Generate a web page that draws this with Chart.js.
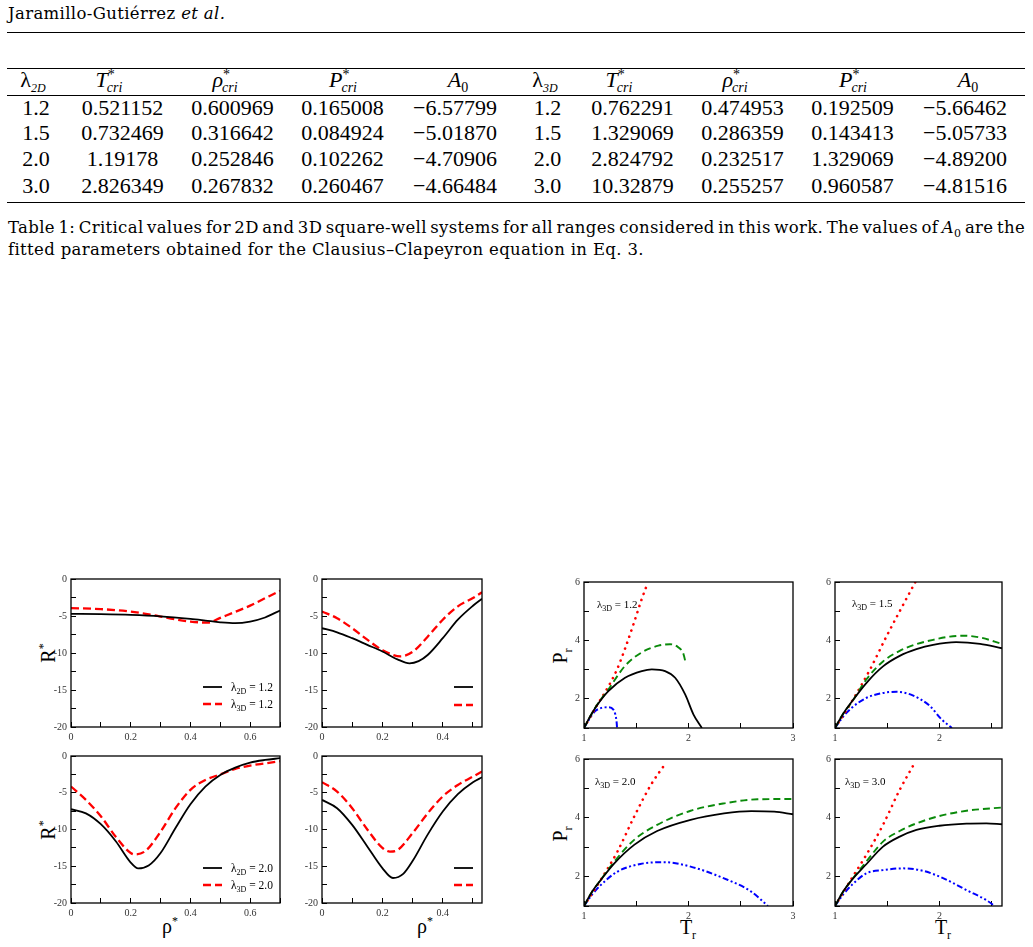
<!DOCTYPE html>
<html>
<head>
<meta charset="utf-8">
<title>Square-well critical values</title>
<script src="https://cdn.jsdelivr.net/npm/chart.js@4.4.1/dist/chart.umd.min.js"></script>
<style>
  body { margin: 0; background: #fff; }
  #page { position: relative; width: 1033px; height: 947px; overflow: hidden; font-family: "Liberation Serif", serif; color: #000; }
  .txt { position: absolute; white-space: nowrap; }
  .rule { position: absolute; left: 7px; width: 1018px; height: 0; border-top: 1.2px solid #000; }
  .cell { position: absolute; width: 140px; text-align: center; font-size: 22px; line-height: 26px; white-space: nowrap; }
  .cell sub, .cell sup { font-size: 14px; line-height: 0; }
  .cell .cri { font-style: italic; margin-left: -8px; }
  .cell .dd { font-style: italic; font-size: 12px; }
  .body { font-family: "DejaVu Serif", serif; font-size: 16.5px; letter-spacing: 0.35px; }
  .cap { position: absolute; left: 8px; width: 1017px; line-height: 21.7px; white-space: nowrap; }
  .at { position: absolute; font-size: 20px; line-height: 1; white-space: nowrap; }
  .at sup, .at sub { font-size: 12px; line-height: 0; }
  canvas { position: absolute; }
</style>
</head>
<body>
<div id="page">
  <div class="txt body" style="left:8px;top:4px;line-height:20px;">Jaramillo-Gutiérrez <i>et al.</i></div>
  <div class="rule" style="top:32px;"></div>

  <div class="rule" style="top:68px;"></div>
  <div class="rule" style="top:95px;"></div>
  <div class="rule" style="top:202px;"></div>

  <div class="cap body" style="top:217px;text-align:justify;text-align-last:justify;word-spacing:-3px;">Table 1: Critical values for 2D and 3D square-well systems for all ranges considered in this work. The values of <i>A</i><sub style="font-size:11px">0</sub> are the</div>
  <div class="cap body" style="top:239px;">fitted parameters obtained for the Clausius–Clapeyron equation in Eq. 3.</div>

  <div class="at" style="left:48px;top:653px;transform:translate(-50%,-50%) rotate(-90deg);">R<sup>*</sup></div>
  <div class="at" style="left:48px;top:830px;transform:translate(-50%,-50%) rotate(-90deg);">R<sup>*</sup></div>
  <div class="at" style="left:170px;top:926px;transform:translate(-50%,-50%);">ρ<sup>*</sup></div>
  <div class="at" style="left:425px;top:926px;transform:translate(-50%,-50%);">ρ<sup>*</sup></div>
  <div class="at" style="left:560px;top:656px;transform:translate(-50%,-50%) rotate(-90deg);">P<sub>r</sub></div>
  <div class="at" style="left:560px;top:834px;transform:translate(-50%,-50%) rotate(-90deg);">P<sub>r</sub></div>
  <div class="at" style="left:688px;top:927px;transform:translate(-50%,-50%);">T<sub>r</sub></div>
  <div class="at" style="left:943px;top:927px;transform:translate(-50%,-50%);">T<sub>r</sub></div>
</div>

<script>
// ---- Table 1 ----
const lam = ["1.2", "1.5", "2.0", "3.0"];
const tCri2d = ["0.521152", "0.732469", "1.19178", "2.826349"];
const rhoCri2d = ["0.600969", "0.316642", "0.252846", "0.267832"];
const pCri2d = ["0.165008", "0.084924", "0.102262", "0.260467"];
const a0_2d = ["−6.57799", "−5.01870", "−4.70906", "−4.66484"];
const tCri3d = ["0.762291", "1.329069", "2.824792", "10.32879"];
const rhoCri3d = ["0.474953", "0.286359", "0.232517", "0.255257"];
const pCri3d = ["0.192509", "0.143413", "1.329069", "0.960587"];
const a0_3d = ["−5.66462", "−5.05733", "−4.89200", "−4.81516"];

// ---- R* vs rho* (left figure) ----
const rhoTicks = [0, 0.1, 0.2, 0.3, 0.4, 0.5, 0.6, 0.7];
const rhoTickText = ["0", "", "0.2", "", "0.4", "", "0.6", ""];
const rTicks = [0, -2.5, -5, -7.5, -10, -12.5, -15, -17.5, -20];
const rTickText = ["0", "", "-5", "", "-10", "", "-15", "", "-20"];

const rhoA2d = [0, 0.1, 0.2, 0.3, 0.4, 0.45, 0.5, 0.55, 0.6, 0.65, 0.7];
const rA2d = [-4.7, -4.75, -4.85, -5.05, -5.4, -5.62, -5.85, -5.97, -5.75, -5.2, -4.25];
const rhoA3d = [0, 0.1, 0.2, 0.25, 0.3, 0.35, 0.4, 0.46, 0.5, 0.55, 0.6, 0.65, 0.7];
const rA3d = [-3.94, -4.07, -4.4, -4.7, -5.07, -5.45, -5.75, -5.9, -5.25, -4.45, -3.6, -2.6, -1.6];

const rhoB2d = [0, 0.05, 0.1, 0.15, 0.2, 0.25, 0.29, 0.32, 0.35, 0.4, 0.45, 0.5, 0.53];
const rB2d = [-6.65, -7.2, -8.0, -8.9, -9.8, -10.86, -11.4, -11.1, -10.27, -8.0, -5.5, -3.62, -2.67];
const rhoB3d = [0, 0.05, 0.1, 0.15, 0.2, 0.26, 0.3, 0.35, 0.4, 0.45, 0.5, 0.53];
const rB3d = [-4.39, -5.3, -6.65, -8.2, -9.6, -10.45, -9.85, -7.8, -5.5, -3.7, -2.58, -1.8];

const rhoC2d = [0, 0.05, 0.1, 0.15, 0.2, 0.225, 0.26, 0.3, 0.35, 0.4, 0.45, 0.5, 0.55, 0.6, 0.65, 0.7];
const rC2d = [-7.24, -7.8, -9.28, -11.6, -14.5, -15.3, -14.9, -13.2, -9.8, -6.56, -4.16, -2.58, -1.58, -0.9, -0.54, -0.3];
const rhoC3d = [0, 0.05, 0.1, 0.15, 0.2, 0.215, 0.25, 0.3, 0.35, 0.4, 0.45, 0.5, 0.55, 0.6, 0.65, 0.7];
const rC3d = [-4.16, -5.97, -8.2, -11.0, -13.2, -13.4, -12.9, -10.3, -7.1, -4.6, -3.26, -2.5, -1.76, -1.3, -1.0, -0.7];

const rhoD2d = [0, 0.05, 0.1, 0.15, 0.2, 0.235, 0.27, 0.3, 0.35, 0.4, 0.45, 0.5, 0.53];
const rD2d = [-5.97, -7.1, -9.37, -12.3, -15.25, -16.6, -16.0, -14.3, -10.7, -7.56, -5.2, -3.57, -2.9];
const rhoD3d = [0, 0.05, 0.1, 0.15, 0.2, 0.225, 0.25, 0.3, 0.35, 0.4, 0.45, 0.5, 0.53];
const rD3d = [-3.57, -4.84, -7.1, -10.0, -12.5, -13.0, -12.8, -10.5, -7.8, -5.5, -3.94, -2.8, -2.1];

// ---- P_r vs T_r (right figure) ----
const trTicks = [1, 1.5, 2, 2.5, 3];
const trTickText = ["1", "", "2", "", "3"];
const prTicks = [1, 2, 3, 4, 5, 6];
const prTickText = ["", "2", "", "4", "", "6"];

const tE_solid = [1, 1.06, 1.12, 1.233, 1.393, 1.553, 1.649, 1.776, 1.872, 1.968, 2.048, 2.128];
const pE_solid = [1, 1.4, 1.75, 2.26, 2.72, 2.95, 3.01, 2.95, 2.72, 2.15, 1.46, 1.0];
const tE_dash = [1, 1.06, 1.12, 1.233, 1.393, 1.553, 1.712, 1.824, 1.904, 1.952, 1.974];
const pE_dash = [1, 1.4, 1.77, 2.32, 3.13, 3.59, 3.82, 3.87, 3.76, 3.53, 3.21];
const tE_dot = [1, 1.12, 1.233, 1.313, 1.393, 1.473, 1.553, 1.61];
const pE_dot = [1, 1.75, 2.42, 2.98, 3.72, 4.55, 5.42, 5.97];
const tE_dd = [1, 1.05, 1.105, 1.169, 1.233, 1.281, 1.3, 1.313, 1.316];
const pE_dd = [1, 1.3, 1.57, 1.69, 1.71, 1.63, 1.46, 1.17, 1.02];

const tF_solid = [1, 1.08, 1.16, 1.3, 1.46, 1.62, 1.78, 1.94, 2.16, 2.39, 2.6];
const pF_solid = [1, 1.5, 1.9, 2.54, 3.11, 3.47, 3.7, 3.85, 3.94, 3.88, 3.73];
const tF_dash = [1, 1.08, 1.16, 1.3, 1.46, 1.62, 1.78, 1.94, 2.1, 2.24, 2.39, 2.6];
const pF_dash = [1, 1.5, 1.88, 2.66, 3.28, 3.64, 3.87, 4.02, 4.13, 4.16, 4.1, 3.88];
const tF_dot = [1, 1.16, 1.335, 1.495, 1.62, 1.77];
const pF_dot = [1, 1.9, 3.0, 4.15, 5.0, 6.0];
const tF_dd = [1, 1.08, 1.16, 1.3, 1.46, 1.59, 1.75, 1.91, 2.02, 2.12];
const pF_dd = [1, 1.4, 1.69, 2.03, 2.2, 2.24, 2.11, 1.75, 1.3, 1.0];

const tG_solid = [1, 1.08, 1.16, 1.29, 1.48, 1.7, 2.02, 2.34, 2.6, 2.82, 3.0];
const pG_solid = [1, 1.5, 1.88, 2.45, 3.08, 3.55, 3.93, 4.15, 4.23, 4.21, 4.12];
const tG_dash = [1, 1.08, 1.16, 1.29, 1.48, 1.7, 2.02, 2.34, 2.66, 3.0];
const pG_dash = [1, 1.5, 1.89, 2.51, 3.25, 3.76, 4.24, 4.49, 4.63, 4.64];
const tG_dot = [1, 1.16, 1.32, 1.48, 1.64, 1.78];
const pG_dot = [1, 1.89, 2.85, 4.04, 5.12, 5.85];
const tG_dd = [1, 1.08, 1.16, 1.32, 1.54, 1.77, 2.02, 2.34, 2.6, 2.76];
const pG_dd = [1, 1.4, 1.71, 2.17, 2.43, 2.49, 2.34, 1.94, 1.49, 1.0];

const tH_solid = [1, 1.08, 1.16, 1.3, 1.46, 1.62, 1.78, 2.0, 2.26, 2.45, 2.6];
const pH_solid = [1, 1.5, 1.88, 2.42, 3.02, 3.36, 3.59, 3.73, 3.8, 3.81, 3.78];
const tH_dash = [1, 1.08, 1.16, 1.3, 1.46, 1.62, 1.78, 2.0, 2.26, 2.6];
const pH_dash = [1, 1.5, 1.89, 2.51, 3.19, 3.55, 3.81, 4.06, 4.24, 4.35];
const tH_dot = [1, 1.16, 1.3, 1.46, 1.62, 1.77];
const pH_dot = [1, 1.94, 2.74, 3.76, 4.95, 5.91];
const tH_dd = [1, 1.08, 1.16, 1.3, 1.46, 1.65, 1.85, 2.04, 2.26, 2.45, 2.53];
const pH_dd = [1, 1.4, 1.71, 2.11, 2.22, 2.28, 2.19, 1.94, 1.54, 1.2, 1.0];

const page = document.getElementById("page");

// table columns
const headCx = [33, 109, 225, 343, 458, 545, 619, 735, 853, 968];
const colCx = [36, 122.5, 232.5, 342.5, 455, 547.5, 632.5, 742.5, 852.5, 965];
const heads = [
  'λ<sub class="dd">2D</sub>',
  '<i>T</i><sup>*</sup><sub class="cri">cri</sub>',
  '<i>ρ</i><sup>*</sup><sub class="cri">cri</sub>',
  '<i>P</i><sup>*</sup><sub class="cri">cri</sub>',
  '<i>A</i><sub>0</sub>',
  'λ<sub class="dd">3D</sub>',
  '<i>T</i><sup>*</sup><sub class="cri">cri</sub>',
  '<i>ρ</i><sup>*</sup><sub class="cri">cri</sub>',
  '<i>P</i><sup>*</sup><sub class="cri">cri</sub>',
  '<i>A</i><sub>0</sub>',
];
const cols = [lam, tCri2d, rhoCri2d, pCri2d, a0_2d, lam, tCri3d, rhoCri3d, pCri3d, a0_3d];
const rowTops = [94.6, 119.8, 146.2, 172.8];

heads.forEach((h, i) => {
  const d = document.createElement("div");
  d.className = "cell";
  d.style.left = headCx[i] - 70 + "px";
  d.style.top = "67px";
  d.innerHTML = h;
  page.appendChild(d);
});
cols.forEach((col, i) => {
  col.forEach((v, r) => {
    const d = document.createElement("div");
    d.className = "cell";
    d.style.left = colCx[i] - 70 + "px";
    d.style.top = rowTops[r] + "px";
    d.textContent = v;
    page.appendChild(d);
  });
});

// ---- charts ----
const FONT = '"Liberation Serif"';
const PAD_L = 34, PAD_T = 8, PAD_R = 5, PAD_B = 18;

const pts = (xs, ys) => xs.map((x, i) => ({ x: x, y: ys[i] }));

function subText(ctx, x, y, main, sub, rest, size) {
  ctx.fillStyle = "#000";
  ctx.textBaseline = "alphabetic";
  ctx.textAlign = "left";
  ctx.font = size + "px " + FONT;
  ctx.fillText(main, x, y);
  x += ctx.measureText(main).width;
  ctx.font = Math.round(size * 0.7) + "px " + FONT;
  ctx.fillText(sub, x, y + size * 0.28);
  x += ctx.measureText(sub).width;
  ctx.font = size + "px " + FONT;
  ctx.fillText(rest, x, y);
}

const deco = {
  id: "deco",
  afterDraw(chart, args, o) {
    const { ctx, chartArea: a } = chart;
    ctx.save();
    // legend keys (line samples, optional text)
    (o.keys || []).forEach((k, i) => {
      const ds = chart.data.datasets[i];
      const y = a.top + k.dy;
      ctx.beginPath();
      ctx.setLineDash(ds.borderDash || []);
      ctx.strokeStyle = ds.borderColor;
      ctx.lineWidth = ds.borderWidth;
      ctx.moveTo(a.left + o.kx, y);
      ctx.lineTo(a.left + o.kx + 19, y);
      ctx.stroke();
      ctx.setLineDash([]);
      if (k.text) subText(ctx, a.left + o.kx + 28, y + 4, "λ", k.sub, k.text, 11.5);
    });
    if (o.note) subText(ctx, a.left + o.note.x, a.top + o.note.y, "λ", "3D", o.note.text, 11);
    // box round the plot
    ctx.strokeStyle = "#000";
    ctx.lineWidth = 1.3;
    ctx.strokeRect(a.left, a.top, a.right - a.left, a.bottom - a.top);
    ctx.restore();
  },
};

function axis(min, max, vals, text, isX) {
  return {
    type: "linear",
    min: min,
    max: max,
    afterBuildTicks: (s) => {
      s.ticks = vals.map((v) => ({ value: v }));
    },
    afterFit: (s) => {
      if (isX) s.height = PAD_B;
      else s.width = PAD_L;
      s.paddingLeft = 0;
      s.paddingRight = 0;
      s.paddingTop = 0;
      s.paddingBottom = 0;
    },
    ticks: {
      autoSkip: false,
      maxRotation: 0,
      padding: 9,
      color: "#333",
      font: { family: "Liberation Serif", size: 10 },
      callback: (v, i) => text[i],
    },
    grid: { drawOnChartArea: false, drawTicks: true, tickLength: -5, color: "#000", lineWidth: 1 },
    border: { display: false },
  };
}

function panel(rect, xs, ys, datasets, decoOpts) {
  const cv = document.createElement("canvas");
  const w = rect.r - rect.l + PAD_L + PAD_R;
  const h = rect.b - rect.t + PAD_T + PAD_B;
  cv.width = w;
  cv.height = h;
  cv.style.left = rect.l - PAD_L + "px";
  cv.style.top = rect.t - PAD_T + "px";
  page.appendChild(cv);
  new Chart(cv, {
    type: "line",
    data: { datasets: datasets },
    options: {
      responsive: false,
      animation: false,
      layout: { padding: { top: PAD_T, right: PAD_R, left: 0, bottom: 0 } },
      elements: { point: { radius: 0 } },
      plugins: { legend: { display: false }, tooltip: { enabled: false }, deco: decoOpts },
      scales: { x: xs, y: ys },
    },
    plugins: [deco],
  });
}

const solid = (data) => ({ data, borderColor: "#000", borderWidth: 1.8, cubicInterpolationMode: "monotone", fill: false });
const redDash = (data) => ({ data, borderColor: "#ff0000", borderWidth: 2.3, borderDash: [8, 4], cubicInterpolationMode: "monotone", fill: false });
const greenDash = (data) => ({ data, borderColor: "#0a8a0a", borderWidth: 1.9, borderDash: [7, 4], cubicInterpolationMode: "monotone", fill: false });
const redDot = (data) => ({ data, borderColor: "#ff0000", borderWidth: 2.6, borderDash: [0.1, 6.3], borderCapStyle: "round", cubicInterpolationMode: "monotone", fill: false });
const blueDD = (data) => ({ data, borderColor: "#0000ff", borderWidth: 2, borderDash: [6, 2.5, 2, 2.5, 2, 2.5], cubicInterpolationMode: "monotone", fill: false });

// left figure
panel({ l: 71, t: 579, r: 280, b: 727 }, axis(0, 0.7, rhoTicks, rhoTickText, true), axis(-20, 0, rTicks, rTickText, false),
  [solid(pts(rhoA2d, rA2d)), redDash(pts(rhoA3d, rA3d))],
  { kx: 132, keys: [{ dy: 108, sub: "2D", text: " = " + lam[0] }, { dy: 125, sub: "3D", text: " = " + lam[0] }] });
panel({ l: 322, t: 579, r: 482, b: 727 }, axis(0, 0.53, rhoTicks, rhoTickText, true), axis(-20, 0, rTicks, rTickText, false),
  [solid(pts(rhoB2d, rB2d)), redDash(pts(rhoB3d, rB3d))],
  { kx: 132, keys: [{ dy: 108 }, { dy: 126 }] });
panel({ l: 71, t: 756, r: 280, b: 903 }, axis(0, 0.7, rhoTicks, rhoTickText, true), axis(-20, 0, rTicks, rTickText, false),
  [solid(pts(rhoC2d, rC2d)), redDash(pts(rhoC3d, rC3d))],
  { kx: 132, keys: [{ dy: 112, sub: "2D", text: " = " + lam[2] }, { dy: 129, sub: "3D", text: " = " + lam[2] }] });
panel({ l: 322, t: 756, r: 482, b: 903 }, axis(0, 0.53, rhoTicks, rhoTickText, true), axis(-20, 0, rTicks, rTickText, false),
  [solid(pts(rhoD2d, rD2d)), redDash(pts(rhoD3d, rD3d))],
  { kx: 132, keys: [{ dy: 112 }, { dy: 129 }] });

// right figure
panel({ l: 584, t: 582, r: 793, b: 728 }, axis(1, 3, trTicks, trTickText, true), axis(1, 6, prTicks, prTickText, false),
  [solid(pts(tE_solid, pE_solid)), greenDash(pts(tE_dash, pE_dash)), redDot(pts(tE_dot, pE_dot)), blueDD(pts(tE_dd, pE_dd))],
  { note: { x: 13, y: 26, text: " = " + lam[0] } });
panel({ l: 835, t: 582, r: 1002, b: 728 }, axis(1, 2.6, trTicks, trTickText, true), axis(1, 6, prTicks, prTickText, false),
  [solid(pts(tF_solid, pF_solid)), greenDash(pts(tF_dash, pF_dash)), redDot(pts(tF_dot, pF_dot)), blueDD(pts(tF_dd, pF_dd))],
  { note: { x: 17, y: 25, text: " = " + lam[1] } });
panel({ l: 584, t: 759, r: 793, b: 906 }, axis(1, 3, trTicks, trTickText, true), axis(1, 6, prTicks, prTickText, false),
  [solid(pts(tG_solid, pG_solid)), greenDash(pts(tG_dash, pG_dash)), redDot(pts(tG_dot, pG_dot)), blueDD(pts(tG_dd, pG_dd))],
  { note: { x: 11, y: 26, text: " = " + lam[2] } });
panel({ l: 835, t: 759, r: 1002, b: 906 }, axis(1, 2.6, trTicks, trTickText, true), axis(1, 6, prTicks, prTickText, false),
  [solid(pts(tH_solid, pH_solid)), greenDash(pts(tH_dash, pH_dash)), redDot(pts(tH_dot, pH_dot)), blueDD(pts(tH_dd, pH_dd))],
  { note: { x: 10, y: 26, text: " = " + lam[3] } });
</script>
</body>
</html>
